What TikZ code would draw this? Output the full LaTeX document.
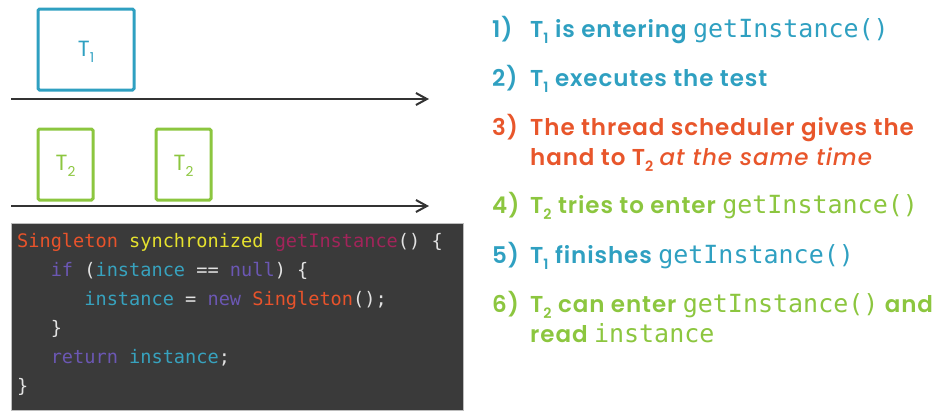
\documentclass[tikz,border=0pt]{standalone}
\usepackage{fontspec}
\setmainfont{Poppins}[BoldFont={Poppins SemiBold}, BoldItalicFont={Poppins Medium Italic}]
\newfontfamily\codefont{DejaVu Sans Mono}
\usetikzlibrary{arrows.meta}
\usepackage{graphicx}

\definecolor{tblue}{HTML}{2FA0C1}
\definecolor{tgreen}{HTML}{8CC63F}
\definecolor{torange}{HTML}{E8562B}
\definecolor{axis}{HTML}{333333}
\definecolor{codebg}{HTML}{3A3A3A}
\definecolor{codeframe}{HTML}{BDBDBD}
\definecolor{ckey}{HTML}{6B57B3}
\definecolor{cvar}{HTML}{37A2BE}
\definecolor{ctype}{HTML}{E8532B}
\definecolor{cmod}{HTML}{E6E22E}
\definecolor{cfun}{HTML}{A2245A}
\definecolor{cpun}{HTML}{E2E2E2}

% thread name with a lowered index
\newcommand\thr[1]{T\raisebox{-0.28em}{\scalebox{0.62}{#1}}}
\newcommand\mono[1]{{\mdseries\codefont\fontsize{25}{28}\selectfont #1}}

\tikzset{
  x=1pt, y=-1pt,
  timeline/.style={draw=axis, line width=2pt, -{Straight Barb[length=11pt,width=12pt,line width=2pt]}},
  threadbox/.style={draw=#1, line width=3pt, rounded corners=1.5pt},
  boxlabel/.style={font=\fontsize{22}{24}\selectfont, anchor=center, inner sep=0pt},
  codeline/.style={anchor=base west, inner sep=0pt, font=\codefont\fontsize{18.6}{22}\selectfont},
  stepnum/.style={anchor=base west, inner sep=0pt, font=\bfseries\fontsize{23}{26}\selectfont\addfontfeatures{LetterSpace=4}},
  steptext/.style={anchor=base west, inner sep=0pt, font=\bfseries\fontsize{23}{26}\selectfont\addfontfeatures{LetterSpace=4}},
}

\begin{document}
\begin{tikzpicture}
\useasboundingbox (0,0) rectangle (947,416);

% thread time lines
\coordinate (l1s) at (11,99);
\coordinate (l1e) at (429,99);
\coordinate (l2s) at (11,206);
\coordinate (l2e) at (429,206);
\draw[timeline] (l1s) -- (l1e);
\draw[timeline] (l2s) -- (l2e);

% execution slots
\draw[threadbox=tblue] (38,9) rectangle (134,90);
\node[boxlabel, text=tblue] (t1) at (86,52) {\thr{1}};
\draw[threadbox=tgreen] (38,129) rectangle (93,200);
\node[boxlabel, text=tgreen] (t2a) at (65.5,166) {\thr{2}};
\draw[threadbox=tgreen] (156,129) rectangle (211,200);
\node[boxlabel, text=tgreen] (t2b) at (183.5,166) {\thr{2}};

% code listing
\fill[codebg] (11,223) rectangle (463,410);
\draw[codeframe, line width=0.8pt] (11,223) rectangle (463,410);
\node[codeline] (c1) at (17,247) {\textcolor{ctype}{Singleton} \textcolor{cmod}{synchronized} \textcolor{cfun}{getInstance}\textcolor{cpun}{() \{}};
\node[codeline] (c2) at (17,276) {\textcolor{cpun}{\ \ \ }\textcolor{ckey}{if} \textcolor{cpun}{(}\textcolor{cvar}{instance} \textcolor{cpun}{==} \textcolor{ckey}{null}\textcolor{cpun}{) \{}};
\node[codeline] (c3) at (17,305) {\textcolor{cpun}{\ \ \ \ \ \ }\textcolor{cvar}{instance} \textcolor{cpun}{=} \textcolor{ckey}{new} \textcolor{ctype}{Singleton}\textcolor{cpun}{();}};
\node[codeline] (c4) at (17,334) {\textcolor{cpun}{\ \ \ \}}};
\node[codeline] (c5) at (17,363) {\textcolor{cpun}{\ \ \ }\textcolor{ckey}{return} \textcolor{cvar}{instance}\textcolor{cpun}{;}};
\node[codeline] (c6) at (17,392) {\textcolor{cpun}{\}}};

% numbered steps
\node[stepnum, text=tblue] (n1) at (492,37) {1)};
\node[steptext, text=tblue] (s1) at (530,37) {\thr{1} is entering \mono{getInstance()}};
\node[stepnum, text=tblue] (n2) at (492,86) {2)};
\node[steptext, text=tblue] (s2) at (530,86) {\thr{1} executes the test};
\node[stepnum, text=torange] (n3) at (492,135) {3)};
\node[steptext, text=torange] (s3) at (530,135) {The thread scheduler gives the};
\node[steptext, text=torange] (s3b) at (530,165) {hand to \thr{2} {\itshape at the same time}};
\node[stepnum, text=tgreen] (n4) at (492,213) {4)};
\node[steptext, text=tgreen] (s4) at (530,213) {\thr{2} tries to enter \mono{getInstance()}};
\node[stepnum, text=tblue] (n5) at (492,263) {5)};
\node[steptext, text=tblue] (s5) at (530,263) {\thr{1} finishes \mono{getInstance()}};
\node[stepnum, text=tgreen] (n6) at (492,312) {6)};
\node[steptext, text=tgreen] (s6) at (530,312) {\thr{2} can enter \mono{getInstance()} and};
\node[steptext, text=tgreen] (s6b) at (530,342) {read \mono{instance}};
\end{tikzpicture}
\end{document}
